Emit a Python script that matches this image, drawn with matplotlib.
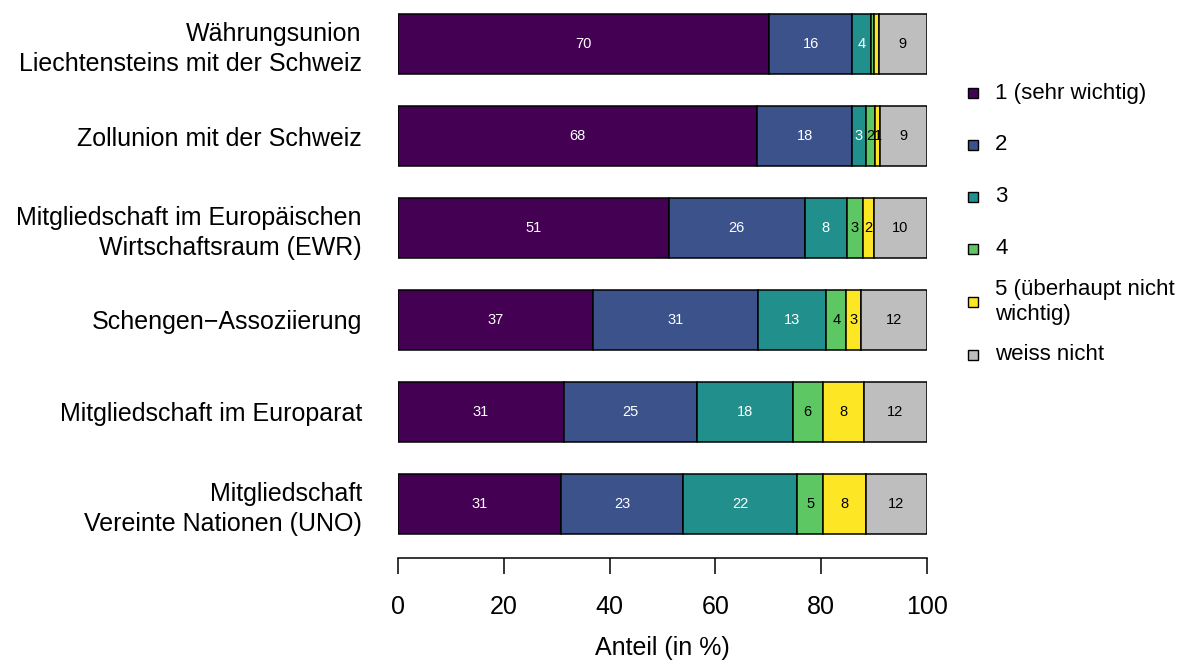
import matplotlib
matplotlib.use("Agg")
import matplotlib.pyplot as plt
from matplotlib.patches import Rectangle
import numpy as np

plt.rcParams['font.family'] = ['Liberation Sans', 'DejaVu Sans']

categories = [
    "Währungsunion\nLiechtensteins mit der Schweiz",
    "Zollunion mit der Schweiz",
    "Mitgliedschaft im Europäischen\nWirtschaftsraum (EWR)",
    "Schengen\u2212Assoziierung",
    "Mitgliedschaft im Europarat",
    "Mitgliedschaft\nVereinte Nationen (UNO)",
]
series_names = ["1 (sehr wichtig)", "2", "3", "4", "5 (überhaupt nicht\nwichtig)", "weiss nicht"]
s1 = [70.2, 67.9, 51.2, 36.9, 31.4, 30.8]
s2 = [15.6, 17.9, 25.7, 31.2, 25.1, 23.1]
s3 = [3.7, 2.6, 7.9, 12.9, 18.1, 21.6]
s4 = [0.5, 1.8, 3.1, 3.7, 5.7, 4.9]
s5 = [0.9, 1.0, 2.1, 2.9, 7.7, 8.0]
s6 = [9.1, 8.8, 10.0, 12.4, 12.0, 11.6]
colors = ["#440154", "#3B528B", "#21908C", "#5DC863", "#FDE725", "#BEBEBE"]
text_colors = ["white", "white", "white", "black", "black", "black"]
xticks = [0, 20, 40, 60, 80, 100]

W, H = 1178, 662
fig = plt.figure(figsize=(W / 100, H / 100), dpi=100)

top_px, bot_px = 7.2, 540.8
ax = fig.add_axes([398 / W, 1 - bot_px / H, 529 / W, (bot_px - top_px) / H])

series = [s1, s2, s3, s4, s5, s6]
y = np.arange(len(categories))
left = np.zeros(len(categories))
for k, vals in enumerate(series):
    vals = np.array(vals)
    ax.barh(y, vals, left=left, height=0.66, color=colors[k],
            edgecolor="black", linewidth=1.1)
    for i, v in enumerate(vals):
        if v >= 1.0:
            ax.text(left[i] + v / 2, y[i], f"{int(round(v)):d}", ha="center",
                    va="center", fontsize=10.5, color=text_colors[k])
    left += vals

ax.set_xlim(0, 100)
ax.set_ylim(5.4, -0.4)
for s in ["top", "right", "left"]:
    ax.spines[s].set_visible(False)
ax.spines["bottom"].set_position(("outward", 12.5))
ax.spines["bottom"].set_linewidth(1.1)
ax.set_xticks(xticks)
ax.set_xticklabels([str(t) for t in xticks], fontsize=18)
ax.tick_params(axis="x", length=11.5, width=1.1, pad=15)
ax.set_yticks(y)
ax.set_yticklabels(categories, fontsize=18, linespacing=1.28)
ax.tick_params(axis="y", length=0, pad=26)
ax.set_xlabel("Anteil (in %)", fontsize=18, labelpad=12)

# legend
leg_y = [93, 145, 197, 249, 302, 355]
for k, name in enumerate(series_names):
    yy = leg_y[k]
    sq = 10
    fig.patches.append(Rectangle(((973 - sq / 2) / W, 1 - (yy + sq / 2) / H), sq / W, sq / H,
                                 transform=fig.transFigure, facecolor=colors[k],
                                 edgecolor="black", linewidth=1.0))
    fig.text(995 / W, 1 - yy / H, name, ha="left", va="center", fontsize=16,
             linespacing=1.25)

fig.savefig("out.png", dpi=100)
